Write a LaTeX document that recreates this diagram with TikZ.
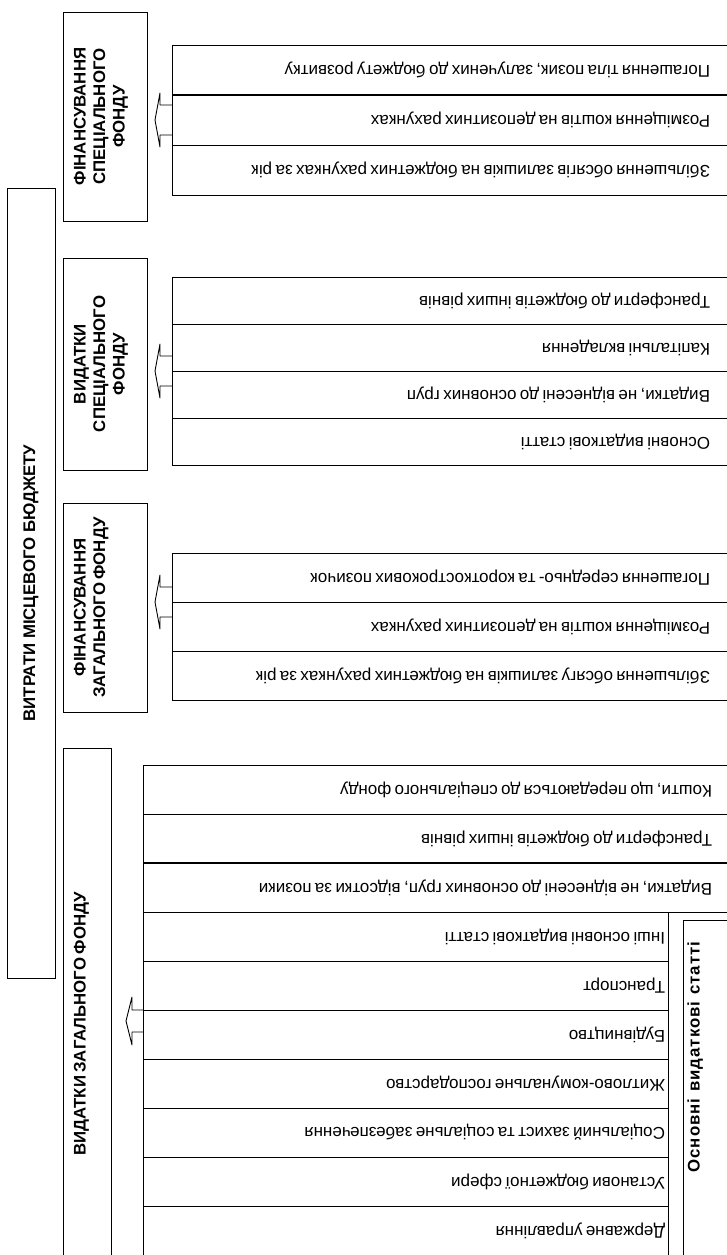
\documentclass[tikz,border=0pt]{standalone}
\usepackage{fontspec}
\setmainfont{Liberation Sans}
\usepackage{graphicx}
\newcommand{\itemfont}{\fontsize{17pt}{19pt}\selectfont}
\newcommand{\catfont}{\fontsize{16.8pt}{19.5pt}\selectfont\bfseries}
\newcommand{\catlines}[1]{\rotatebox{90}{\begin{tabular}{@{}c@{}}#1\end{tabular}}}
\tikzset{
  box/.style={draw=black, line width=0.9pt, inner sep=0pt, outer sep=0pt},
  rowbox/.style={box, anchor=north west, minimum height=#1, inner xsep=3pt, align=right},
  catbox/.style={box, anchor=north west, inner xsep=9pt, align=left},
  blockarrow/.style={draw=black, line width=0.9pt, line join=round},
}
\begin{document}
\begin{tikzpicture}[x=1pt,y=-1pt]
\useasboundingbox (0,0) rectangle (727,1255);
\clip (0,0) rectangle (727,1255);
\fill[white] (0,0) rectangle (727,1255);

% main box
\node[box, anchor=north west, minimum width=48pt, minimum height=790pt] (main) at (7,188)
  {\catfont\rotatebox{90}{ВИТРАТИ МІСЦЕВОГО БЮДЖЕТУ}};

% ---------- A: financing of special fund
\node[catbox, minimum width=84pt, minimum height=209pt, text width=66pt] (catA) at (63,12)
  {\catfont\catlines{ФІНАНСУВАННЯ\\СПЕЦІАЛЬНОГО\\ФОНДУ}};
\foreach \t [count=\i] in {{Погашення тіла позик, залучених до бюджету розвитку},
  {Розміщення коштів на депозитних рахунках},
  {Збільшення обсягів залишків на бюджетних рахунках за рік}}{
  \node[rowbox=50pt, minimum width=560pt, text width=516pt] (A\i) at (172,{45+(\i-1)*50})
    {\itemfont\rotatebox[origin=c]{180}{\t}};
}
\draw[line width=1.6pt] (A1.south west) -- (A1.south east);
\draw[blockarrow] (A2.west) ++(0,-15) -- ++(-12,0) -- ++(0,-12) -- ++(-5,27) -- ++(5,27) -- ++(0,-12) -- ++(12,0);

% ---------- B: special fund expenditures
\node[catbox, minimum width=84pt, minimum height=212pt, text width=66pt] (catB) at (63,258)
  {\catfont\catlines{ВИДАТКИ\\СПЕЦІАЛЬНОГО\\ФОНДУ}};
\foreach \t [count=\i] in {{Трансферти до бюджетів інших рівнів},
  {Капітальні вкладення},
  {Видатки, не віднесені до основних груп},
  {Основні видаткові статті}}{
  \node[rowbox=47pt, minimum width=560pt, text width=516pt] (B\i) at (172,{277+(\i-1)*47})
    {\itemfont\rotatebox[origin=c]{180}{\t}};
}
\draw[blockarrow] (B2.south west) ++(0,-15) -- ++(-12,0) -- ++(0,-12) -- ++(-5,27) -- ++(5,27) -- ++(0,-12) -- ++(12,0);

% ---------- C: financing of general fund
\node[catbox, minimum width=84pt, minimum height=209pt, text width=66pt] (catC) at (63,503)
  {\catfont\catlines{ФІНАНСУВАННЯ\\ЗАГАЛЬНОГО ФОНДУ}};
\foreach \t [count=\i] in {{Погашення середньо- та короткострокових позичок},
  {Розміщення коштів на депозитних рахунках},
  {Збільшення обсягу залишків на бюджетних рахунках за рік}}{
  \node[rowbox=49pt, minimum width=560pt, text width=516pt] (C\i) at (172,{553+(\i-1)*49})
    {\itemfont\rotatebox[origin=c]{180}{\t}};
}
\draw[blockarrow] (C1.south west) ++(0,-15) -- ++(-12,0) -- ++(0,-12) -- ++(-5,27) -- ++(5,27) -- ++(0,-12) -- ++(12,0);

% ---------- D: general fund expenditures
\node[catbox, minimum width=48pt, minimum height=552pt, text width=30pt] (catD) at (63,748)
  {\catfont\catlines{ВИДАТКИ ЗАГАЛЬНОГО ФОНДУ}};
\foreach \t [count=\i] in {{Кошти, що передаються до спеціального фонду},
  {Трансферти до бюджетів інших рівнів},
  {Видатки, не віднесені до основних груп, відсотки за позики}}{
  \node[rowbox=49pt, minimum width=589pt, text width=549pt] (D\i) at (143,{765+(\i-1)*49})
    {\itemfont\rotatebox[origin=c]{180}{\t}};
}
\draw[line width=1.6pt] (D2.south west) -- (D2.south east);
\foreach \t [count=\i from 4] in {{Інші основні видаткові статті},
  {Транспорт},
  {Будівництво},
  {Житлово-комунальне господарство},
  {Соціальний захист та соціальне забезпечення},
  {Установи бюджетної сфери},
  {Державне управління}}{
  \node[rowbox=49pt, minimum width=525pt, text width=519pt] (D\i) at (143,{765+(\i-1)*49})
    {\itemfont\rotatebox[origin=c]{180}{\t}};
}
\node[box, anchor=north west, minimum width=60pt, minimum height=350pt, inner xsep=3pt, text width=54pt, align=left] (side) at (683,920)
  {\catfont\addfontfeatures{LetterSpace=6}\catlines{\hspace*{76pt}Основні\ \ видаткові\ \ статті}};
\draw[blockarrow] (D6.north west) -- ++(-11,0) -- ++(0,-13) -- ++(-6,24) -- ++(6,24) -- ++(0,-13) -- ++(11,0);
\end{tikzpicture}
\end{document}
